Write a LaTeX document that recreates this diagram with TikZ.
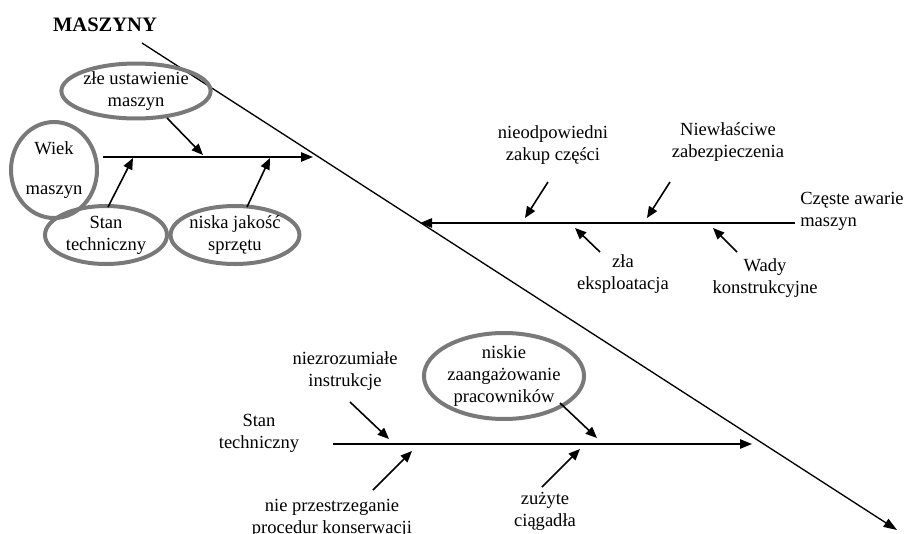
\documentclass[tikz,border=0pt]{standalone}
\usepackage{fontspec}
\setmainfont{Liberation Serif}
\usetikzlibrary{arrows.meta,shapes.geometric}
\tikzset{
  lbl/.style={align=center,inner sep=0pt,font=\fontsize{13.9}{16.5}\selectfont},
  oval/.style={ellipse,draw=gray!95!black,line width=3pt,inner sep=0pt,align=center,font=\fontsize{13.9}{16.5}\selectfont},
  spine/.style={line width=1.2pt,-{Triangle[length=9pt,width=7pt]}},
  rib/.style={line width=1.2pt,-{Triangle[length=8.5pt,width=7pt]}},
  diag/.style={line width=1pt,-{Triangle[length=10pt,width=7pt]}}
}
\begin{document}
\begin{tikzpicture}[x=0.75pt,y=-0.75pt]
\useasboundingbox (0,0) rectangle (908,533);
\clip (0,0) rectangle (908,533);
% title
\node[inner sep=0pt,font=\fontsize{15.4}{18}\selectfont\bfseries] (title) at (105,25) {MASZYNY};
% main diagonal
\coordinate (d1) at (142,43);
\coordinate (d2) at (897,530);
\draw[diag] (d1) -- (d2);
% top branch
\coordinate (t1) at (103,157);
\coordinate (t2) at (313,157);
\draw[spine] (t1) -- (t2);
\node[oval,minimum width=103pt,minimum height=39pt] (zle) at (136,91) {złe ustawienie\\maszyn};
\node[oval,minimum width=64.5pt,minimum height=72pt] (wiek) at (54,170) {Wiek\\[14pt]maszyn};
\node[oval,minimum width=91.5pt,minimum height=43.5pt] (stan) at (106,235) {Stan\\techniczny};
\node[oval,minimum width=87pt,minimum height=43.5pt] (niska) at (235,235) {niska jakość\\sprzętu};
\coordinate (a1s) at (167,118); \coordinate (a1e) at (203,155);
\coordinate (a2s) at (108,207); \coordinate (a2e) at (133,158);
\coordinate (a3s) at (247,207); \coordinate (a3e) at (270,158);
\draw[rib] (a1s) -- (a1e);
\draw[rib] (a2s) -- (a2e);
\draw[rib] (a3s) -- (a3e);
% middle branch
\coordinate (m1) at (795,223);
\coordinate (m2) at (420,223);
\draw[spine] (m1) -- (m2);
\node[lbl,anchor=west,align=left] (czeste) at (800,211) {Częste awarie\\maszyn};
\node[lbl] (nieod) at (553,145) {nieodpowiedni\\zakup części};
\node[lbl] (niewl) at (728,142) {Niewłaściwe\\zabezpieczenia};
\node[lbl] (zla) at (623,274) {zła\\eksploatacja};
\node[lbl] (wady) at (765,278) {Wady\\konstrukcyjne};
\coordinate (b1s) at (548,182); \coordinate (b1e) at (525,218);
\coordinate (b2s) at (670,182); \coordinate (b2e) at (647,218);
\coordinate (b3s) at (600,252); \coordinate (b3e) at (575,228);
\coordinate (b4s) at (737,252); \coordinate (b4e) at (713,228);
\draw[rib] (b1s) -- (b1e);
\draw[rib] (b2s) -- (b2e);
\draw[rib] (b3s) -- (b3e);
\draw[rib] (b4s) -- (b4e);
% bottom branch
\coordinate (s1) at (333,444);
\coordinate (s2) at (752,444);
\draw[spine] (s1) -- (s2);
\node[lbl] (stan2) at (259,433) {Stan\\techniczny};
\node[lbl] (niezr) at (345,371) {niezrozumiałe\\instrukcje};
\node[oval,minimum width=106.5pt,minimum height=61.5pt] (niskie) at (504,376) {niskie\\zaangażowanie\\pracowników};
\node[lbl] (niep) at (332,518) {nie przestrzeganie\\procedur konserwacji};
\node[lbl] (zuz) at (545,511) {zużyte\\ciągadła};
\coordinate (c1s) at (350,402); \coordinate (c1e) at (389,439);
\coordinate (c2s) at (560,403); \coordinate (c2e) at (597,438);
\coordinate (c3s) at (373,490); \coordinate (c3e) at (412,451);
\coordinate (c4s) at (542,487); \coordinate (c4e) at (580,449);
\draw[rib] (c1s) -- (c1e);
\draw[rib] (c2s) -- (c2e);
\draw[rib] (c3s) -- (c3e);
\draw[rib] (c4s) -- (c4e);
\end{tikzpicture}
\end{document}
